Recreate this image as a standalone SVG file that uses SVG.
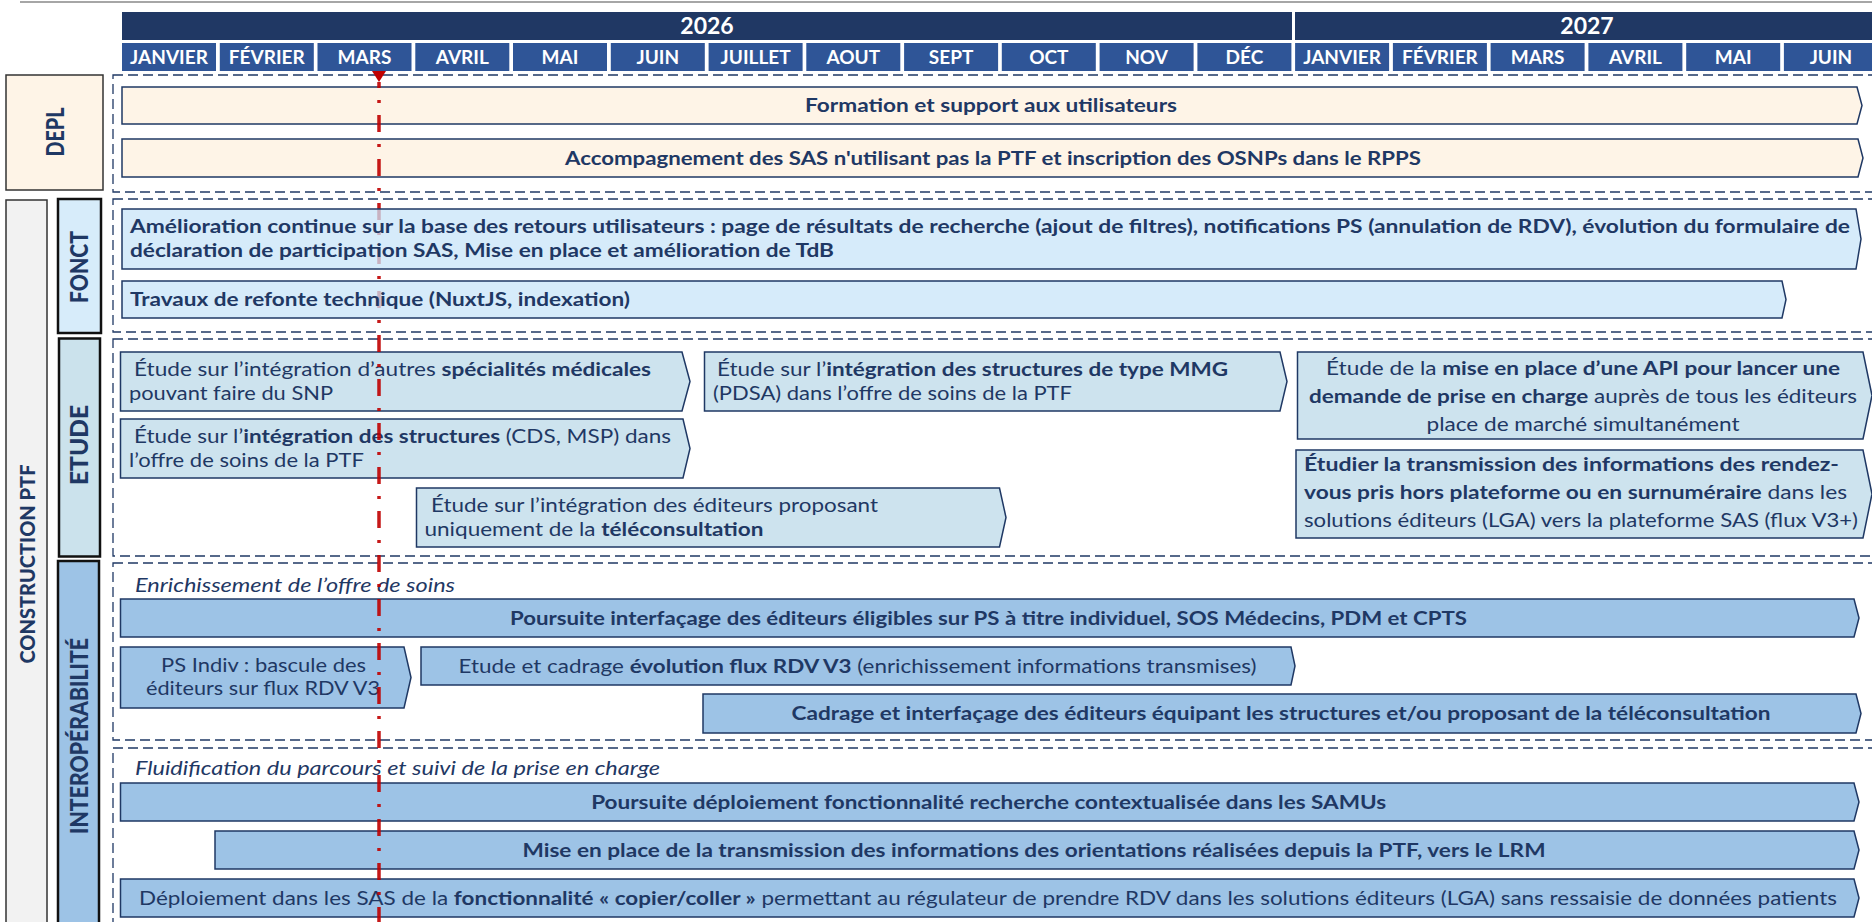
<svg xmlns="http://www.w3.org/2000/svg" width="1872" height="922" viewBox="0 0 1872 922">
<style>
.t{font-family:Lato,'Liberation Sans',sans-serif;fill:#1F3864;font-size:19.5px}
.b{font-weight:700}
.it{font-style:italic}
.c{text-anchor:middle}
.mo{font-family:Lato,'Liberation Sans',sans-serif;font-weight:700;font-size:19px;fill:#fff;text-anchor:middle}
.yr{font-family:Lato,'Liberation Sans',sans-serif;font-weight:700;font-size:23px;fill:#fff;text-anchor:middle}
.mbox{fill:#2F5597}
.ybox{fill:#203864}
.cont{fill:none;stroke:#1F3864;stroke-width:1.3;stroke-dasharray:10 5}
.bar{stroke:#1F3864;stroke-width:1.5}
.depl{fill:#FEF4E7}
.fonct{fill:#C8E4F8;fill-opacity:0.75}
.etude{fill:#CDE3EE}
.inter{fill:#9DC3E6}
.lab{font-family:Lato,'Liberation Sans',sans-serif;font-weight:900;font-size:24px;fill:#1F3864;text-anchor:middle}
.lbox{stroke:#111;stroke-width:2.5}
</style>

<line x1="20" y1="2" x2="1872" y2="2" stroke="#A6A6A6" stroke-width="2"/>

<g id="header">
  <rect class="ybox" x="122" y="12" width="1170" height="28"/>
  <rect class="ybox" x="1295" y="12" width="590" height="28"/>
  <text class="yr" x="707" y="34">2026</text>
  <text class="yr" x="1587" y="34">2027</text>
  <rect class="mbox" x="122" y="43" width="94" height="28"/><text class="mo" x="169" y="63.5">JANVIER</text>
  <rect class="mbox" x="219.8" y="43" width="94" height="28"/><text class="mo" x="266.8" y="63.5">FÉVRIER</text>
  <rect class="mbox" x="317.5" y="43" width="94" height="28"/><text class="mo" x="364.5" y="63.5">MARS</text>
  <rect class="mbox" x="415.3" y="43" width="94" height="28"/><text class="mo" x="462.3" y="63.5">AVRIL</text>
  <rect class="mbox" x="513" y="43" width="94" height="28"/><text class="mo" x="560" y="63.5">MAI</text>
  <rect class="mbox" x="610.8" y="43" width="94" height="28"/><text class="mo" x="657.8" y="63.5">JUIN</text>
  <rect class="mbox" x="708.6" y="43" width="94" height="28"/><text class="mo" x="755.6" y="63.5">JUILLET</text>
  <rect class="mbox" x="806.3" y="43" width="94" height="28"/><text class="mo" x="853.3" y="63.5">AOUT</text>
  <rect class="mbox" x="904.1" y="43" width="94" height="28"/><text class="mo" x="951.1" y="63.5">SEPT</text>
  <rect class="mbox" x="1001.8" y="43" width="94" height="28"/><text class="mo" x="1048.8" y="63.5">OCT</text>
  <rect class="mbox" x="1099.6" y="43" width="94" height="28"/><text class="mo" x="1146.6" y="63.5">NOV</text>
  <rect class="mbox" x="1197.4" y="43" width="94" height="28"/><text class="mo" x="1244.4" y="63.5">DÉC</text>
  <rect class="mbox" x="1295.1" y="43" width="94" height="28"/><text class="mo" x="1342.1" y="63.5">JANVIER</text>
  <rect class="mbox" x="1392.9" y="43" width="94" height="28"/><text class="mo" x="1439.9" y="63.5">FÉVRIER</text>
  <rect class="mbox" x="1490.6" y="43" width="94" height="28"/><text class="mo" x="1537.6" y="63.5">MARS</text>
  <rect class="mbox" x="1588.4" y="43" width="94" height="28"/><text class="mo" x="1635.4" y="63.5">AVRIL</text>
  <rect class="mbox" x="1686.2" y="43" width="94" height="28"/><text class="mo" x="1733.2" y="63.5">MAI</text>
  <rect class="mbox" x="1783.9" y="43" width="94" height="28"/><text class="mo" x="1830.9" y="63.5">JUIN</text>
</g>

<g id="labels">
  <g id="label-depl">
    <rect x="6" y="75" width="97" height="115" fill="#FEF4E7" stroke="#333" stroke-width="1.5"/>
    <text class="lab" transform="translate(55,132) rotate(-90)" x="0" y="0" dy="0.36em" textLength="49" lengthAdjust="spacingAndGlyphs">DEPL</text>
  </g>
  <g id="label-construction">
    <rect x="6" y="200" width="41" height="740" fill="#F2F2F2" stroke="#333" stroke-width="1.5"/>
    <text class="lab" style="font-size:21px" transform="translate(27,564) rotate(-90)" x="0" y="0" dy="0.36em" textLength="199" lengthAdjust="spacingAndGlyphs">CONSTRUCTION PTF</text>
  </g>
  <g id="label-fonct">
    <rect class="lbox" x="58" y="199" width="43" height="134" fill="#D7ECFA"/>
    <text class="lab" transform="translate(79.5,267) rotate(-90)" x="0" y="0" dy="0.36em" textLength="72" lengthAdjust="spacingAndGlyphs">FONCT</text>
  </g>
  <g id="label-etude">
    <rect class="lbox" x="59" y="338.5" width="41" height="218" fill="#CBE2EC"/>
    <text class="lab" transform="translate(79.5,445) rotate(-90)" x="0" y="0" dy="0.36em" textLength="80" lengthAdjust="spacingAndGlyphs">ETUDE</text>
  </g>
  <g id="label-interop">
    <rect class="lbox" x="58" y="561" width="41" height="380" fill="#9DC3E6"/>
    <text class="lab" transform="translate(79,736) rotate(-90)" x="0" y="0" dy="0.36em" textLength="196" lengthAdjust="spacingAndGlyphs">INTEROPÉRABILITÉ</text>
  </g>
</g>

<g id="containers">
  <rect class="cont" x="113" y="75" width="1775" height="117"/>
  <rect class="cont" x="113" y="199" width="1775" height="133"/>
  <rect class="cont" x="113" y="339" width="1775" height="217"/>
  <rect class="cont" x="113" y="563" width="1775" height="177"/>
  <rect class="cont" x="113" y="748" width="1775" height="190"/>
</g>

<g id="depl">
  <g id="d1">
    <polygon class="bar depl" points="122,87 1857,87 1862,105.5 1857,124 122,124"/>
    <text class="t b c" x="991" y="112" textLength="372" lengthAdjust="spacingAndGlyphs">Formation et support aux utilisateurs</text>
  </g>
  <g id="d2">
    <polygon class="bar depl" points="122,139 1858,139 1863,158 1858,177 122,177"/>
    <text class="t b c" x="993" y="164.5" textLength="856" lengthAdjust="spacingAndGlyphs">Accompagnement des SAS n'utilisant pas la PTF et inscription des OSNPs dans le RPPS</text>
  </g>
</g>

<g id="etude">
  <g id="e1">
    <polygon class="bar etude" points="120.5,352 682,352 690,381.5 682,411 120.5,411"/>
    <text class="t" x="134" y="376" textLength="517" lengthAdjust="spacingAndGlyphs">Étude sur l’intégration d’autres <tspan class="b">spécialités médicales</tspan></text>
    <text class="t" x="129" y="400" textLength="204" lengthAdjust="spacingAndGlyphs">pouvant faire du SNP</text>
  </g>
  <g id="e2">
    <polygon class="bar etude" points="120.5,419 683,419 690,448.5 683,478 120.5,478"/>
    <text class="t" x="134" y="443" textLength="537" lengthAdjust="spacingAndGlyphs">Étude sur l’<tspan class="b">intégration des structures</tspan>  (CDS, MSP) dans</text>
    <text class="t" x="129" y="467" textLength="235" lengthAdjust="spacingAndGlyphs">l’offre de soins de la PTF</text>
  </g>
  <g id="e3">
    <polygon class="bar etude" points="416.5,488 999.5,488 1006,517.5 999.5,547 416.5,547"/>
    <text class="t" x="431" y="512" textLength="447" lengthAdjust="spacingAndGlyphs">Étude sur l’intégration des éditeurs proposant</text>
    <text class="t" x="424.5" y="536" textLength="339" lengthAdjust="spacingAndGlyphs">uniquement de la <tspan class="b">téléconsultation</tspan></text>
  </g>
  <g id="e4">
    <polygon class="bar etude" points="704.5,352 1280,352 1287,381.5 1280,411 704.5,411"/>
    <text class="t" x="717" y="376" textLength="511" lengthAdjust="spacingAndGlyphs">Étude sur l’<tspan class="b">intégration des structures de type MMG</tspan></text>
    <text class="t" x="713" y="400" textLength="359" lengthAdjust="spacingAndGlyphs">(PDSA) dans l’offre de soins de la PTF</text>
  </g>
  <g id="e5">
    <polygon class="bar etude" points="1297.5,352 1863,352 1872,395.5 1863,439 1297.5,439"/>
    <text class="t c" x="1583" y="375" textLength="514" lengthAdjust="spacingAndGlyphs">Étude de la <tspan class="b">mise en place d’une API pour lancer une</tspan></text>
    <text class="t c" x="1583" y="403" textLength="548" lengthAdjust="spacingAndGlyphs"><tspan class="b">demande de prise en charge</tspan> auprès de tous les éditeurs</text>
    <text class="t c" x="1583" y="431" textLength="313" lengthAdjust="spacingAndGlyphs">place de marché simultanément</text>
  </g>
  <g id="e6">
    <polygon class="bar etude" points="1296,450 1863,450 1872,494 1863,538 1296,538"/>
    <text class="t b" x="1304" y="471" textLength="535" lengthAdjust="spacingAndGlyphs">Étudier la transmission des informations des rendez-</text>
    <text class="t" x="1304" y="499" textLength="543" lengthAdjust="spacingAndGlyphs"><tspan class="b">vous pris hors plateforme ou en surnuméraire</tspan> dans les</text>
    <text class="t" x="1304" y="527" textLength="554" lengthAdjust="spacingAndGlyphs">solutions éditeurs (LGA) vers la plateforme SAS (flux V3+)</text>
  </g>
</g>

<g id="interop">
  <text class="t it" x="135" y="592" textLength="320" lengthAdjust="spacingAndGlyphs">Enrichissement de l’offre de soins</text>
  <g id="i1">
    <polygon class="bar inter" points="120.5,599 1854,599 1859,618 1854,637 120.5,637"/>
    <text class="t b c" x="988.5" y="624.5" textLength="957" lengthAdjust="spacingAndGlyphs">Poursuite interfaçage des éditeurs éligibles sur PS à titre individuel, SOS Médecins, PDM et CPTS</text>
  </g>
  <g id="i2">
    <polygon class="bar inter" points="120.5,647 404,647 411,677.5 404,708 120.5,708"/>
    <text class="t c" x="263.5" y="672" textLength="205" lengthAdjust="spacingAndGlyphs">PS Indiv : bascule des</text>
    <text class="t c" x="263" y="695" textLength="234" lengthAdjust="spacingAndGlyphs">éditeurs sur flux RDV V3</text>
  </g>
  <g id="i3">
    <polygon class="bar inter" points="421,647 1291,647 1295,666 1291,685 421,685"/>
    <text class="t" x="458.5" y="672.5" textLength="798" lengthAdjust="spacingAndGlyphs">Etude et cadrage <tspan class="b">évolution flux RDV V3</tspan> (enrichissement informations transmises)</text>
  </g>
  <g id="i4">
    <polygon class="bar inter" points="703,694 1856,694 1861,713.5 1856,733 703,733"/>
    <text class="t b c" x="1281" y="720" textLength="979" lengthAdjust="spacingAndGlyphs">Cadrage et interfaçage des éditeurs équipant les structures et/ou proposant de la téléconsultation</text>
  </g>
  <text class="t it" x="135" y="775" textLength="525" lengthAdjust="spacingAndGlyphs">Fluidification du parcours et suivi de la prise en charge</text>
  <g id="f1">
    <polygon class="bar inter" points="120.5,783 1854,783 1859,802 1854,821 120.5,821"/>
    <text class="t b c" x="988.7" y="808.5" textLength="795" lengthAdjust="spacingAndGlyphs">Poursuite déploiement fonctionnalité recherche contextualisée dans les SAMUs</text>
  </g>
  <g id="f2">
    <polygon class="bar inter" points="215,831 1854,831 1859,850 1854,869 215,869"/>
    <text class="t b c" x="1034" y="856.5" textLength="1023" lengthAdjust="spacingAndGlyphs">Mise en place de la transmission des informations des orientations réalisées depuis la PTF, vers le LRM</text>
  </g>
  <g id="f3">
    <polygon class="bar inter" points="120.5,879 1854,879 1859,898 1854,917 120.5,917"/>
    <text class="t c" x="988" y="904.5" textLength="1698" lengthAdjust="spacingAndGlyphs">Déploiement dans les SAS de la <tspan class="b">fonctionnalité « copier/coller »</tspan> permettant au régulateur de prendre RDV dans les solutions éditeurs (LGA) sans ressaisie de données patients</text>
  </g>
</g>

<g id="today-marker">
  <line x1="379" y1="82" x2="379" y2="922" stroke="#C00000" stroke-width="3.5" stroke-dasharray="17 12 3 12" stroke-dashoffset="11" opacity="0.9"/>
  <polygon points="372,71 386,71 379,82" fill="#C00000"/>
</g>

<g id="fonct">
  <g id="fo1">
    <polygon class="bar fonct" points="122,209 1856,209 1861,239 1856,269 122,269"/>
    <text class="t b" x="130" y="233" textLength="1720" lengthAdjust="spacingAndGlyphs">Amélioration continue sur la base des retours utilisateurs : page de résultats de recherche (ajout de filtres), notifications PS (annulation de RDV), évolution du formulaire de</text>
    <text class="t b" x="130" y="257" textLength="704" lengthAdjust="spacingAndGlyphs">déclaration de participation SAS, Mise en place et amélioration de TdB</text>
  </g>
  <g id="fo2">
    <polygon class="bar fonct" points="122,281 1782,281 1786,299.5 1782,318 122,318"/>
    <text class="t b" x="130" y="306" textLength="500" lengthAdjust="spacingAndGlyphs">Travaux de refonte technique (NuxtJS, indexation)</text>
  </g>
</g>
</svg>
